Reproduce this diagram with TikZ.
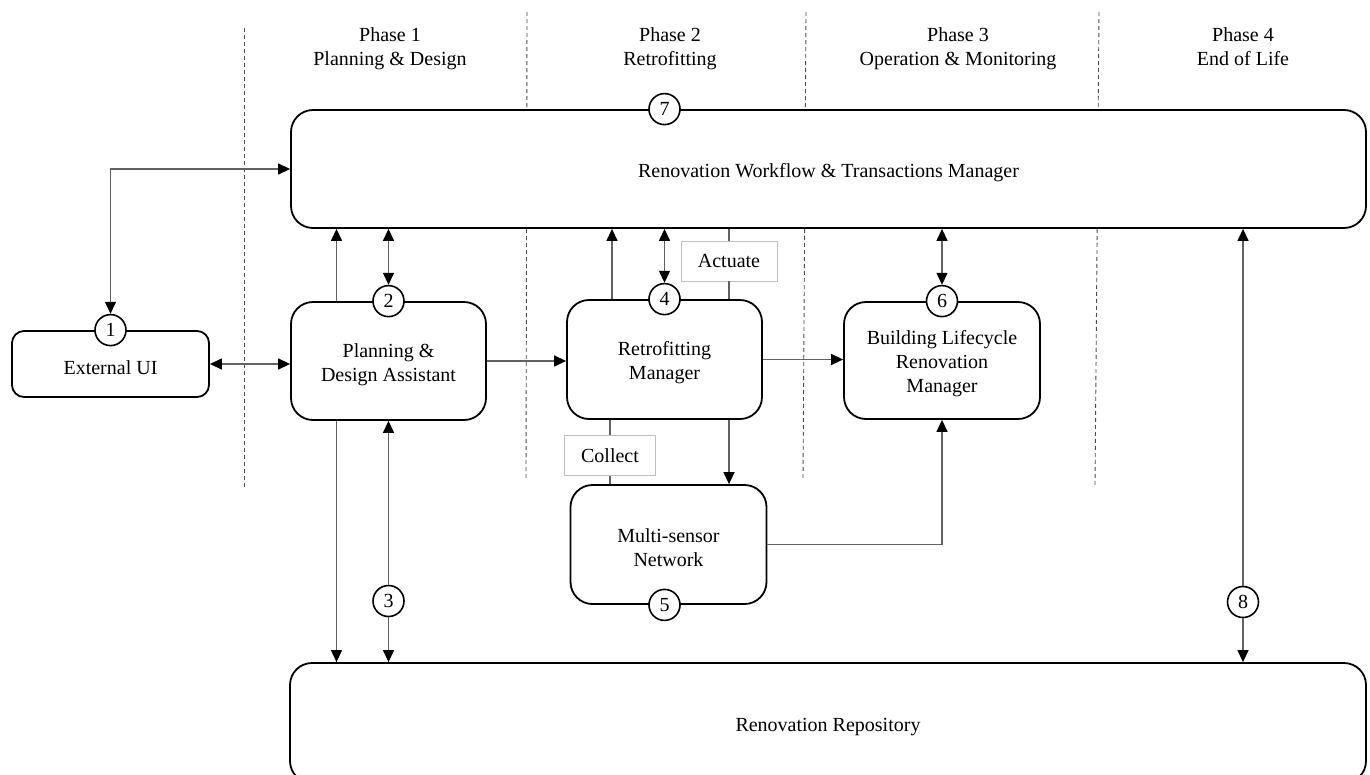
\documentclass[tikz,border=0pt]{standalone}
\usepackage{fontspec}
\setmainfont{Liberation Serif}
\usetikzlibrary{arrows.meta}
\newcommand{\boxstrut}{\rule{0pt}{20.5pt}}

\begin{document}
\begin{tikzpicture}[x=1pt, y=-1pt,
	>={Triangle[length=12pt, width=11pt, color=black]},
	every node/.style={font=\fontsize{20}{24}\selectfont},
	module/.style={draw, line width=1.8pt, rounded corners=22pt, fill=white, align=center, inner sep=0pt},
	num/.style={draw, circle, line width=1.6pt, fill=white, minimum size=31pt, inner sep=0pt},
	lbl/.style={draw=black!25, line width=0.8pt, fill=white, minimum height=40pt, inner sep=0pt},
	link/.style={draw=black!62, line width=1.3pt},
	lane/.style={draw=black!70, line width=0.9pt, dash pattern=on 4pt off 3pt},
	phase/.style={align=center, anchor=north}]
	\useasboundingbox (0,0) rectangle (1370,774);

	% phase borders
	\draw [lane] (244,28) -- (244,488);
	\draw [lane] (527,12) -- (526,478);
	\draw [lane] (806,12) -- (803,480);
	\draw [lane] (1099,12) -- (1095,485);

	\node [phase] (ph1) at (390,24) {Phase 1\\Planning \& Design};
	\node [phase] (ph2) at (670,24) {Phase 2\\Retrofitting};
	\node [phase] (ph3) at (958,24) {Phase 3\\Operation \& Monitoring};
	\node [phase] (ph4) at (1243,24) {Phase 4\\End of Life};

	% modules
	\node [module, minimum width=1075pt, minimum height=118pt] (wf) at (828.5,169) {\boxstrut Renovation Workflow \& Transactions Manager};
	\node [module, minimum width=1076pt, minimum height=120pt] (repo) at (828,723) {\boxstrut Renovation Repository};
	\node [module, rounded corners=12pt, minimum width=197pt, minimum height=66pt] (ext) at (110.5,364) {\boxstrut External UI};
	\node [module, minimum width=195pt, minimum height=118pt] (pda) at (388.5,361) {\boxstrut Planning \&\\Design Assistant};
	\node [module, minimum width=195pt, minimum height=119pt] (rm) at (664.5,359.5) {\boxstrut Retrofitting\\Manager};
	\node [module, minimum width=196pt, minimum height=117pt] (blrm) at (942,360.5) {\boxstrut Building Lifecycle\\Renovation\\Manager};
	\node [module, minimum width=196pt, minimum height=119pt] (msn) at (668.5,544.5) {\boxstrut Multi-sensor\\Network};

	\node [lbl, minimum width=96pt] (act) at (729,261) {Actuate};
	\node [lbl, minimum width=91pt] (coll) at (610,455.5) {Collect};

	% numbers
	\node [num] (c1) at (ext.north) {1};
	\node [num] (c2) at (pda.north) {2};
	\node [num] (c3) at (388.5,601) {3};
	\node [num] (c4) at (rm.north) {4};
	\node [num] (c5) at (msn.south -| c4) {5};
	\node [num] (c6) at (blrm.north) {6};
	\node [num] (c7) at (wf.north -| c4) {7};
	\node [num] (c8) at (1243,602) {8};

	% flows
	\draw [link, <->] (c1.north) |- (wf.west);
	\draw [link, <->] (ext.east) -- (ext.east -| pda.west);

	\draw [link, ->] ([xshift=-52pt]pda.north) -- ([xshift=-52pt]pda.north |- wf.south);
	\draw [link, <->] (c2.north) -- (c2.north |- wf.south);
	\draw [link, ->] ([xshift=-52pt]pda.south) -- ([xshift=-52pt]pda.south |- repo.north);
	\draw [link, ->] (c3.north) -- (pda.south);
	\draw [link, ->] (c3.south) -- (c3.south |- repo.north);
	\draw [link, ->] (pda.east) -- (pda.east -| rm.west);

	\draw [link, ->] ([xshift=-52.5pt]rm.north) -- ([xshift=-52.5pt]rm.north |- wf.south);
	\draw [link, <->] (c4.north) -- (c4.north |- wf.south);
	\draw [link] (act.north) -- (act.north |- wf.south);
	\draw [link] (act.south) -- (act.south |- rm.north);
	\draw [link] (coll.north) -- (coll.north |- rm.south);
	\draw [link] (coll.south) -- (coll.south |- msn.north);
	\draw [link, ->] ([xshift=64.5pt]rm.south) -- ([xshift=64.5pt]rm.south |- msn.north);
	\draw [link, ->] (rm.east) -- (rm.east -| blrm.west);

	\draw [link, ->] (msn.east) -| (blrm.south);
	\draw [link, <->] (c6.north) -- (c6.north |- wf.south);

	\draw [link, ->] (c8.north) -- (c8.north |- wf.south);
	\draw [link, ->] (c8.south) -- (c8.south |- repo.north);
\end{tikzpicture}
\end{document}
